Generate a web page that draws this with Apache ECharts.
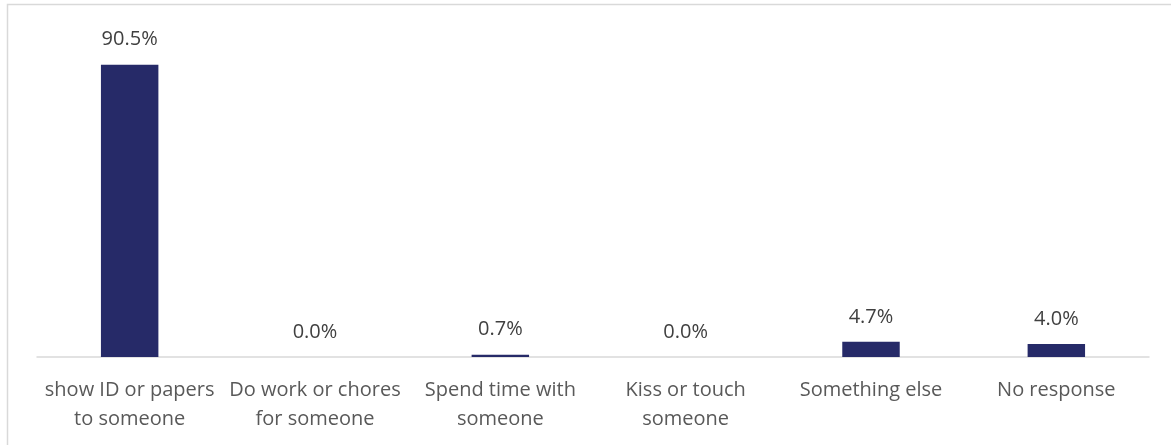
<!DOCTYPE html>
<html>
<head>
    <meta charset="utf-8" />
    <title>Chart</title>
    <script src="https://cdn.jsdelivr.net/npm/echarts@6/dist/echarts.min.js"></script>
    <style>
        body { margin: 0; padding: 0; background: #fff; }
        #chart { width: 1171px; height: 445px; }
    </style>
</head>
<body>
    <div id="chart"></div>
    <script type="text/javascript">
        // categories and values
        var categories = [
            'show ID or papers\nto someone',
            'Do work or chores\nfor someone',
            'Spend time with\nsomeone',
            'Kiss or touch\nsomeone',
            'Something else',
            'No response'
        ];
        var percents = [90.5, 0.0, 0.7, 0.0, 4.7, 4.0];

        var myChart = echarts.init(document.getElementById('chart'));
        myChart.setOption({
            animation: false,
            textStyle: { fontFamily: 'Open Sans' },
            graphic: [{
                type: 'polyline',
                shape: { points: [[7.5, 460], [7.5, 4.5], [1180, 4.5]] },
                style: { stroke: '#d9d9d9', lineWidth: 1.5, fill: null }
            }],
            grid: { left: 37, right: 22, top: 34, bottom: 88 },
            xAxis: {
                type: 'category',
                data: categories,
                axisTick: { show: false },
                axisLine: { lineStyle: { color: '#d9d9d9', width: 1.5 } },
                axisLabel: {
                    color: '#595959',
                    fontSize: 20,
                    lineHeight: 29,
                    margin: 19,
                    interval: 0
                }
            },
            yAxis: {
                type: 'value',
                min: 0,
                max: 100,
                show: false
            },
            series: [{
                type: 'bar',
                data: percents,
                barWidth: '31%',
                itemStyle: { color: '#262a68' },
                label: {
                    show: true,
                    position: 'top',
                    distance: 15,
                    color: '#404040',
                    fontSize: 20,
                    formatter: function (p) { return p.value.toFixed(1) + '%'; }
                }
            }]
        });
    </script>
</body>
</html>
